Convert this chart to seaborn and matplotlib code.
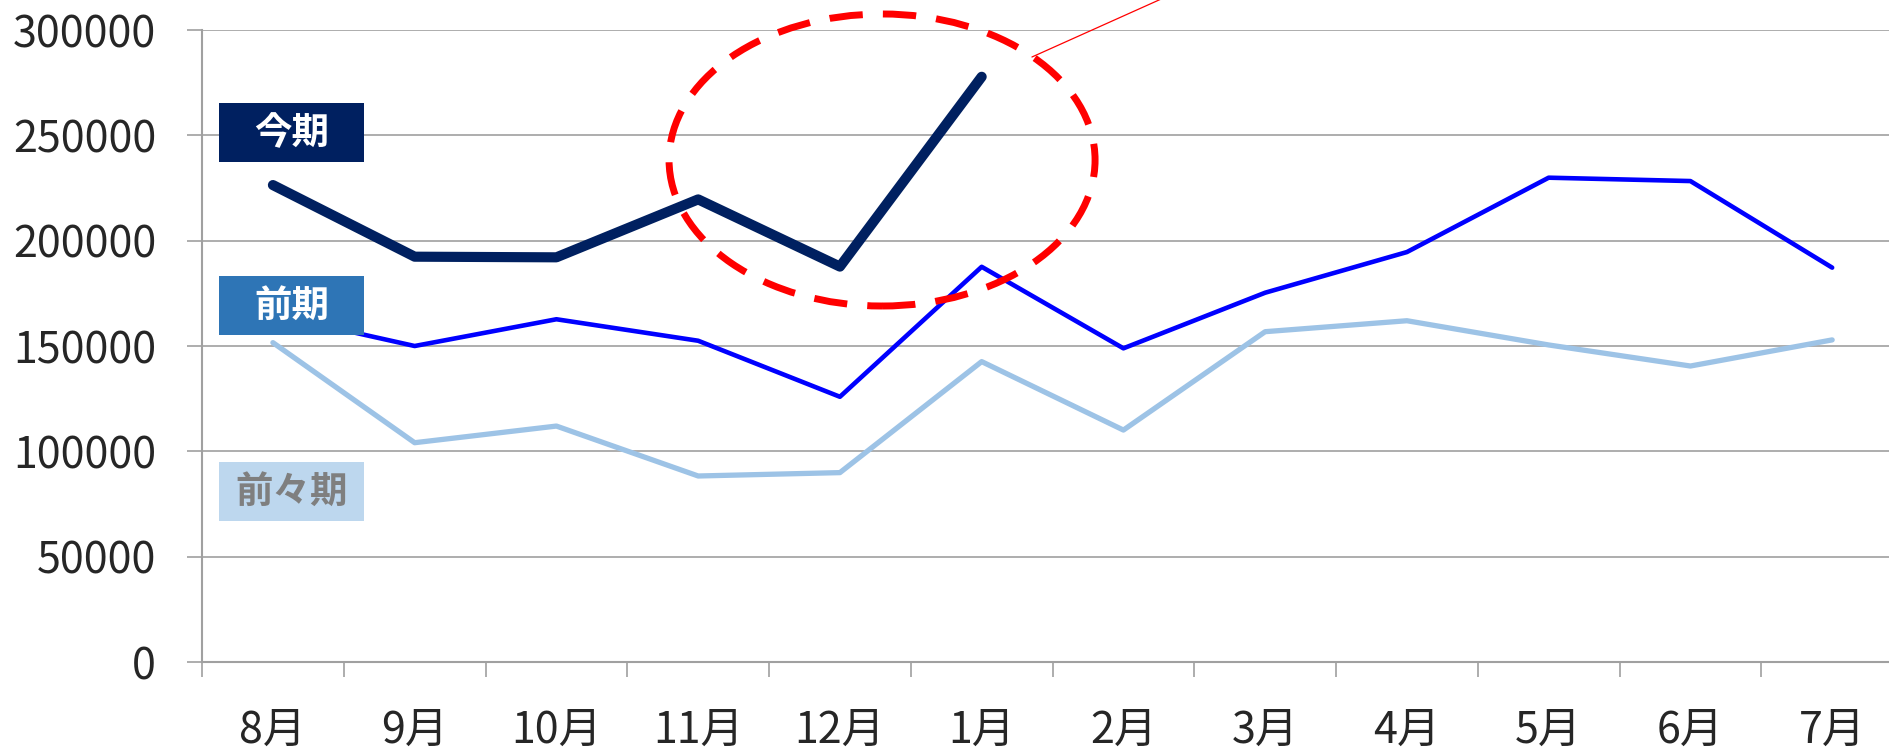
import numpy as np
import pandas as pd
import matplotlib
matplotlib.use("Agg")
import matplotlib.pyplot as plt
import seaborn as sns
from matplotlib.patches import Rectangle, Ellipse
from matplotlib.lines import Line2D

months = ['8月', '9月', '10月', '11月', '12月', '1月', '2月', '3月', '4月', '5月', '6月', '7月']
kon_ki = [226400, 192400, 192100, 219600, 187700, 277800]
zen_ki = [165000, 150000, 162700, 152500, 125900, 187600, 148900, 175300, 194600, 229900, 228300, 187200]
zenzen_ki = [151600, 104100, 112000, 88300, 89900, 142600, 110100, 156800, 162000, 150500, 140500, 152900]
y_ticks = [0, 50000, 100000, 150000, 200000, 250000, 300000]

sns.set_style("white")
plt.rcParams['font.family'] = ['Noto Sans CJK JP', 'DejaVu Sans']

fig = plt.figure(figsize=(18.9, 7.54), dpi=100)
ax = fig.add_axes([0.1069, 0.122, 0.9, 0.8382])

grey = '#a0a0a0'

df_zz = pd.DataFrame({'x': range(len(zenzen_ki)), 'y': zenzen_ki})
df_z = pd.DataFrame({'x': range(len(zen_ki)), 'y': zen_ki})
df_k = pd.DataFrame({'x': range(len(kon_ki)), 'y': kon_ki})

sns.lineplot(data=df_zz, x='x', y='y', ax=ax, color='#9dc3e6', linewidth=3.8,
             solid_capstyle='round', solid_joinstyle='round', zorder=3)
sns.lineplot(data=df_z, x='x', y='y', ax=ax, color='#0000ff', linewidth=3.3,
             solid_capstyle='round', solid_joinstyle='round', zorder=4)
sns.lineplot(data=df_k, x='x', y='y', ax=ax, color='#002060', linewidth=7.3,
             solid_capstyle='round', solid_joinstyle='round', zorder=5)

ax.set_xlim(-0.5, 11.5)
ax.set_ylim(0, 300000)
ax.set_yticks(y_ticks)
ax.set_yticklabels([str(v) for v in y_ticks])
ax.set_xticks(range(len(months)))
ax.set_xticklabels(months)
ax.set_xticks(np.arange(-0.5, 12, 1), minor=True)
ax.set_xlabel('')
ax.set_ylabel('')

ax.yaxis.grid(True, color=grey, linewidth=1.2)
ax.xaxis.grid(False)
for s in ['top', 'right']:
    ax.spines[s].set_visible(False)
for s in ['left', 'bottom']:
    ax.spines[s].set_color(grey)
    ax.spines[s].set_linewidth(1.5)

ax.tick_params(axis='y', which='major', length=11, width=1.2, color=grey,
               pad=22, labelsize=31, left=True)
ax.tick_params(axis='x', which='major', length=0, pad=34, labelsize=31)
ax.tick_params(axis='x', which='minor', length=10.5, width=1.2, color=grey, bottom=True)

# series labels on the left
boxes = [
    ('今期', 0.785, '#002060', 'white'),
    ('前期', 0.5557, '#2e75b6', 'white'),
    ('前々期', 0.309, '#bdd7ee', '#7f7f7f'),
]
for txt, y0, fc, tc in boxes:
    fig.add_artist(Rectangle((0.1159, y0), 0.0767, 0.0789, transform=fig.transFigure,
                             facecolor=fc, edgecolor='none', zorder=10))
    fig.text(0.1159 + 0.0767 / 2, y0 + 0.0789 / 2, txt, color=tc, fontsize=27,
             fontweight='bold', ha='center', va='center', zorder=11)

# red dashed highlight
fig.add_artist(Ellipse((0.4667, 0.7878), 0.2254, 0.3873, transform=fig.transFigure,
                       fill=False, edgecolor='#ff0000', linewidth=5,
                       linestyle=(0, (4.8, 2.9)), zorder=12))
fig.add_artist(Line2D([0.546, 0.615], [0.9244, 1.002], transform=fig.transFigure,
                      color='#ff0000', linewidth=0.9, zorder=12))

plt.savefig('out.png', dpi=100)
